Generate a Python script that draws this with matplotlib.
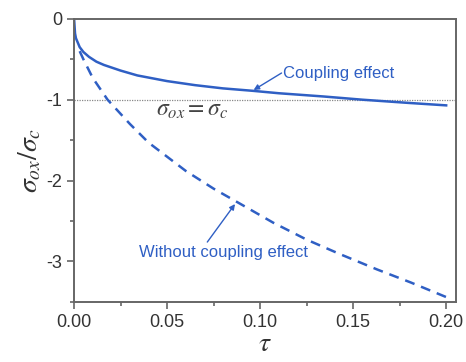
import matplotlib
matplotlib.use("Agg")
import matplotlib.pyplot as plt
from matplotlib.ticker import MultipleLocator, FormatStrFormatter

plt.rcParams['font.family'] = ['Liberation Sans', 'DejaVu Sans']
plt.rcParams['mathtext.fontset'] = 'stix'

tau_coupled = [0, 0.0005, 0.001, 0.003, 0.005, 0.008, 0.012, 0.016, 0.025, 0.034, 0.05,
               0.065, 0.08, 0.096, 0.11, 0.134, 0.155, 0.18, 0.20]
sigma_coupled = [0, -0.18, -0.24, -0.35, -0.41, -0.47, -0.53, -0.57, -0.64, -0.70, -0.77,
                 -0.82, -0.86, -0.89, -0.92, -0.96, -1.0, -1.04, -1.07]

tau_uncoupled = [0.003, 0.005, 0.01, 0.018, 0.03, 0.04, 0.06, 0.075, 0.088, 0.107,
                 0.125, 0.143, 0.163, 0.181, 0.20]
sigma_uncoupled = [-0.40, -0.50, -0.73, -1.0, -1.30, -1.53, -1.88, -2.10, -2.27, -2.52,
                   -2.73, -2.91, -3.10, -3.26, -3.44]

ref_level = -1
blue = '#2f5fc4'
gray = '#666666'

fig = plt.figure(figsize=(4.66, 3.62), dpi=100)
ax = fig.add_axes([0.159, 0.166, 0.820, 0.782])

ax.axhline(ref_level, color='#888888', lw=0.9, ls=(0, (1, 1)))
ax.plot(tau_coupled, sigma_coupled, color=blue, lw=1.8)
ax.plot(tau_uncoupled, sigma_uncoupled, color=blue, lw=1.8, ls=(0, (4, 2.8)))

ax.set_xlim(0, 0.2054)
ax.set_ylim(-3.5, 0)
ax.xaxis.set_major_locator(MultipleLocator(0.05))
ax.xaxis.set_minor_locator(MultipleLocator(0.025))
ax.yaxis.set_major_locator(MultipleLocator(1))
ax.yaxis.set_minor_locator(MultipleLocator(0.5))
ax.xaxis.set_major_formatter(FormatStrFormatter('%.2f'))
ax.yaxis.set_major_formatter(FormatStrFormatter('%d'))

for s in ax.spines.values():
    s.set_color(gray)
    s.set_linewidth(1.4)
ax.tick_params(which='both', direction='out', color=gray, width=1.2,
               labelsize=13, labelcolor='#333333', top=False, right=False)
ax.tick_params(which='major', length=5)
ax.tick_params(which='minor', length=3)

ax.set_ylabel(r'$\sigma_{ox}/\sigma_c$', fontsize=20, color='#333333', labelpad=2)
ax.set_xlabel(r'$\tau$', fontsize=20, color='#333333', labelpad=0)

ax.text(0.0635, -1.13, r'$\sigma_{ox}=\sigma_c$', fontsize=17, color='#444444',
        ha='center', va='center')

ax.text(0.1125, -0.67, 'Coupling effect', fontsize=12, color=blue,
        ha='left', va='center')
ax.annotate('', xy=(0.0965, -0.88), xytext=(0.1115, -0.67),
            arrowprops=dict(arrowstyle='-|>', color=blue, lw=1.0, mutation_scale=8,
                            shrinkA=0, shrinkB=0))
ax.text(0.0805, -2.89, 'Without coupling effect', fontsize=12, color=blue,
        ha='center', va='center')
ax.annotate('', xy=(0.0865, -2.29), xytext=(0.0716, -2.76),
            arrowprops=dict(arrowstyle='-|>', color=blue, lw=1.0, mutation_scale=8,
                            shrinkA=0, shrinkB=0))

fig.savefig('out.png', dpi=100)
